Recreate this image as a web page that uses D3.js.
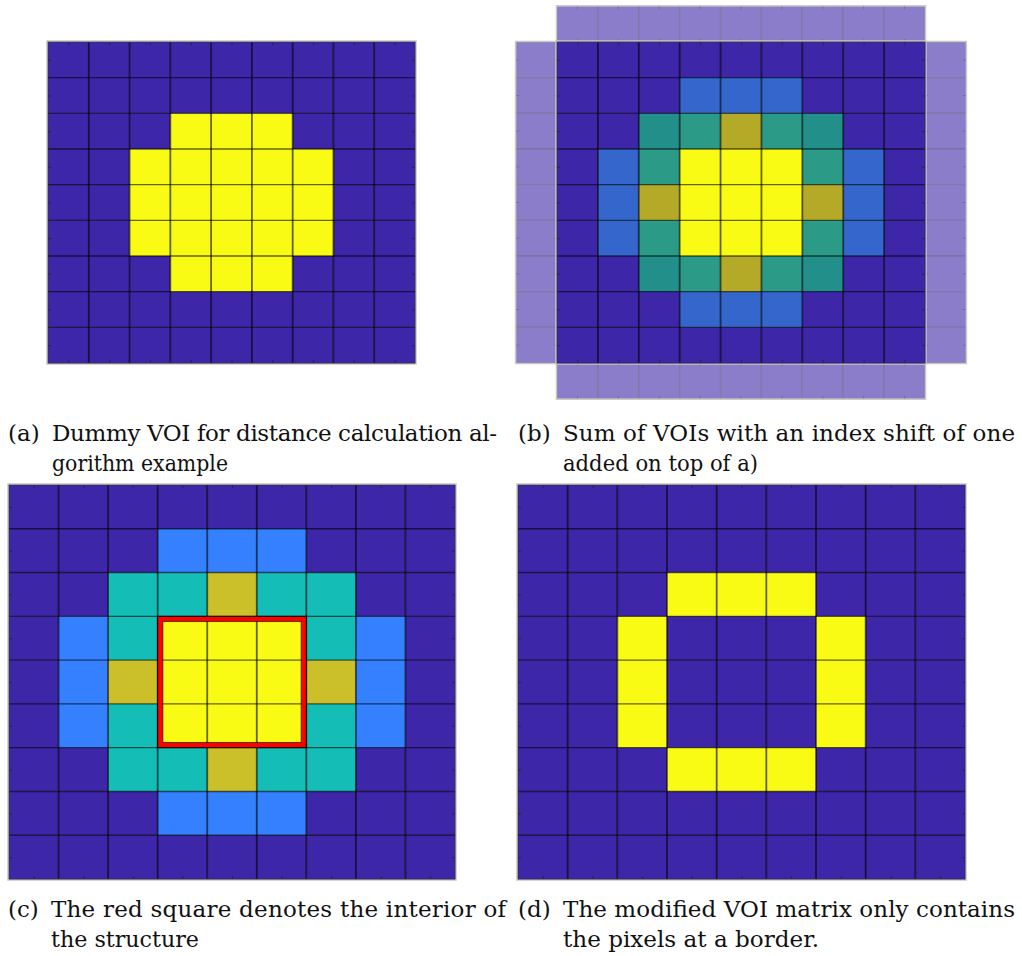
<!DOCTYPE html>
<html>
<head>
<meta charset="utf-8">
<script src="https://cdn.jsdelivr.net/npm/d3@7"></script>
<style>
  html, body { margin: 0; padding: 0; background: #fff; }
  svg { display: block; }
  text { font-family: "DejaVu Serif", serif; fill: #111; }
</style>
</head>
<body>
<svg id="fig" width="1022" height="956"></svg>
<script>
// Dummy VOI (1 = inside the structure)
const voi = [
  [0,0,0,0,0,0,0,0,0],
  [0,0,0,0,0,0,0,0,0],
  [0,0,0,1,1,1,0,0,0],
  [0,0,1,1,1,1,1,0,0],
  [0,0,1,1,1,1,1,0,0],
  [0,0,1,1,1,1,1,0,0],
  [0,0,0,1,1,1,0,0,0],
  [0,0,0,0,0,0,0,0,0],
  [0,0,0,0,0,0,0,0,0]
];

// VOI plus its four copies shifted by one index
const voiSum = [
  [0,0,0,0,0,0,0,0,0],
  [0,0,0,1,1,1,0,0,0],
  [0,0,2,3,4,3,2,0,0],
  [0,1,3,5,5,5,3,1,0],
  [0,1,4,5,5,5,4,1,0],
  [0,1,3,5,5,5,3,1,0],
  [0,0,2,3,4,3,2,0,0],
  [0,0,0,1,1,1,0,0,0],
  [0,0,0,0,0,0,0,0,0]
];

// Border pixels only
const voiBorder = [
  [0,0,0,0,0,0,0,0,0],
  [0,0,0,0,0,0,0,0,0],
  [0,0,0,1,1,1,0,0,0],
  [0,0,1,0,0,0,1,0,0],
  [0,0,1,0,0,0,1,0,0],
  [0,0,1,0,0,0,1,0,0],
  [0,0,0,1,1,1,0,0,0],
  [0,0,0,0,0,0,0,0,0],
  [0,0,0,0,0,0,0,0,0]
];

// Interior block (rows / cols, inclusive start, exclusive end)
const interiorRows = [3, 6];
const interiorCols = [3, 6];

const binaryColors = ["#3e26a8", "#f9fb14"];
const sumColorsB = ["#3e26a8", "#3566cc", "#238f8b", "#2b9b87", "#b5a928", "#f9fb14"];
const sumColorsC = ["#3e26a8", "#3480fe", "#15bdb7", "#15bdb7", "#cbbf2a", "#f9fb14"];

const captions = [
  { label: "(a)", lines: ["Dummy VOI for distance calculation al-", "gorithm example"] },
  { label: "(b)", lines: ["Sum of VOIs with an index shift of one", "added on top of a)"] },
  { label: "(c)", lines: ["The red square denotes the interior of", "the structure"] },
  { label: "(d)", lines: ["The modified VOI matrix only contains", "the pixels at a border."] }
];

const svg = d3.select("#fig");
const N = 9;

function drawPanel(box, matrix, colors, opts = {}) {
  const x = d3.scaleLinear().domain([0, N]).range([box.x0, box.x1]);
  const y = d3.scaleLinear().domain([0, N]).range([box.y0, box.y1]);
  const g = svg.append("g");

  // shifted copies showing outside the image (semi-transparent)
  if (opts.halo) {
    const hg = g.append("g");
    const strips = [
      { r0: -1, r1: 0, c0: 0, c1: N },
      { r0: N, r1: N + 1, c0: 0, c1: N },
      { r0: 0, r1: N, c0: -1, c1: 0 },
      { r0: 0, r1: N, c0: N, c1: N + 1 }
    ];
    strips.forEach(s => {
      const cells = [];
      for (let r = s.r0; r < s.r1; r++) for (let c = s.c0; c < s.c1; c++) cells.push({ r, c });
      hg.selectAll(null).data(cells).join("rect")
        .attr("x", d => x(d.c)).attr("y", d => y(d.r))
        .attr("width", x(1) - x(0)).attr("height", y(1) - y(0))
        .attr("fill", "#8b7dc9")
        .attr("stroke", "#6a6a80").attr("stroke-opacity", 0.45).attr("stroke-width", 1.2);
      hg.append("rect")
        .attr("x", x(s.c0) - 0.5).attr("y", y(s.r0) - 0.5)
        .attr("width", x(s.c1) - x(s.c0) + 1).attr("height", y(s.r1) - y(s.r0) + 1)
        .attr("fill", "none").attr("stroke", "#c8c8c8").attr("stroke-width", 1.5);
      // faint ticks along the strip edges
      const tk = hg.append("g").attr("stroke", "#666").attr("stroke-opacity", 0.5);
      if (s.r0 < 0 || s.r0 >= N) {
        for (let c = s.c0; c < s.c1; c++) {
          tk.append("line").attr("x1", x(c + 0.5)).attr("x2", x(c + 0.5))
            .attr("y1", y(s.r0)).attr("y2", y(s.r0) + 3);
          tk.append("line").attr("x1", x(c + 0.5)).attr("x2", x(c + 0.5))
            .attr("y1", y(s.r1)).attr("y2", y(s.r1) - 3);
        }
      } else {
        for (let r = s.r0; r < s.r1; r++) {
          tk.append("line").attr("y1", y(r + 0.5)).attr("y2", y(r + 0.5))
            .attr("x1", x(s.c0)).attr("x2", x(s.c0) + 3);
          tk.append("line").attr("y1", y(r + 0.5)).attr("y2", y(r + 0.5))
            .attr("x1", x(s.c1)).attr("x2", x(s.c1) - 3);
        }
      }
    });
  }

  // light frame around the image
  g.append("rect")
    .attr("x", box.x0 - 1).attr("y", box.y0 - 1)
    .attr("width", box.x1 - box.x0 + 2).attr("height", box.y1 - box.y0 + 2)
    .attr("fill", "none").attr("stroke", "#c8c8c8").attr("stroke-width", 1.5);

  const cells = [];
  matrix.forEach((row, r) => row.forEach((v, c) => cells.push({ r, c, v })));
  g.append("g").selectAll("rect").data(cells).join("rect")
    .attr("x", d => x(d.c)).attr("y", d => y(d.r))
    .attr("width", x(1) - x(0) + 0.3).attr("height", y(1) - y(0) + 0.3)
    .attr("fill", d => colors[d.v]);

  // grid lines between pixels
  const gl = g.append("g").attr("stroke", "#000").attr("stroke-opacity", 0.6);
  d3.range(1, N).forEach(i => {
    gl.append("line").attr("x1", x(i)).attr("x2", x(i)).attr("y1", y(0)).attr("y2", y(N)).attr("stroke-width", 1.8);
    gl.append("line").attr("y1", y(i)).attr("y2", y(i)).attr("x1", x(0)).attr("x2", x(N)).attr("stroke-width", 1.4);
  });

  // ticks at pixel centres, pointing inwards
  const centers = d3.range(N).map(i => i + 0.5);
  const axes = [
    { a: d3.axisTop(x), t: `translate(0,${box.y0})` },
    { a: d3.axisBottom(x), t: `translate(0,${box.y1})` },
    { a: d3.axisLeft(y), t: `translate(${box.x0},0)` },
    { a: d3.axisRight(y), t: `translate(${box.x1},0)` }
  ];
  axes.forEach(({ a, t }) => {
    const ag = g.append("g").attr("transform", t)
      .call(a.tickValues(centers).tickSize(-3).tickFormat(""));
    ag.select(".domain").remove();
    ag.selectAll(".tick line").attr("stroke", "#222").attr("stroke-opacity", 0.7);
  });

  // axes outline
  g.append("rect")
    .attr("x", box.x0).attr("y", box.y0)
    .attr("width", box.x1 - box.x0).attr("height", box.y1 - box.y0)
    .attr("fill", "none").attr("stroke", "#333").attr("stroke-opacity", 0.7).attr("stroke-width", 1);

  if (opts.interior) {
    const [r0, r1] = opts.interior.rows;
    const [c0, c1] = opts.interior.cols;
    const bx = x(c0), by = y(r0), bw = x(c1) - x(c0), bh = y(r1) - y(r0);
    g.append("rect").attr("x", bx + 2.6).attr("y", by + 2.6)
      .attr("width", bw - 5.2).attr("height", bh - 5.2)
      .attr("fill", "none").attr("stroke", "#ff0000").attr("stroke-width", 5.2);
    g.append("rect").attr("x", bx).attr("y", by).attr("width", bw).attr("height", bh)
      .attr("fill", "none").attr("stroke", "#000").attr("stroke-width", 1);
    g.append("rect").attr("x", bx + 5.2).attr("y", by + 5.2).attr("width", bw - 10.4).attr("height", bh - 10.4)
      .attr("fill", "none").attr("stroke", "#000").attr("stroke-opacity", 0.6).attr("stroke-width", 1);
  }
}

drawPanel({ x0: 48, x1: 415, y0: 42, y1: 363 }, voi, binaryColors);
drawPanel({ x0: 557, x1: 925, y0: 42, y1: 363 }, voiSum, sumColorsB, { halo: true });
drawPanel({ x0: 9, x1: 455, y0: 485, y1: 879 }, voiSum, sumColorsC,
  { interior: { rows: interiorRows, cols: interiorCols } });
drawPanel({ x0: 518, x1: 965, y0: 485, y1: 879 }, voiBorder, binaryColors);

// sub-captions
const capLayout = [
  { lx: 8, tx: 52, y: 441, w: [445, 176] },
  { lx: 518, tx: 563, y: 441, w: [452, 195] },
  { lx: 8, tx: 51, y: 917, w: [455, 148] },
  { lx: 518, tx: 563, y: 917, w: [452, 256] }
];
captions.forEach((cap, i) => {
  const L = capLayout[i];
  svg.append("text").attr("x", L.lx).attr("y", L.y).attr("font-size", 23).text(cap.label);
  cap.lines.forEach((ln, j) => {
    svg.append("text")
      .attr("x", L.tx).attr("y", L.y + j * 30)
      .attr("font-size", 23)
      .attr("textLength", L.w[j])
      .attr("lengthAdjust", j === 0 ? "spacing" : "spacingAndGlyphs")
      .text(ln);
  });
});
</script>
</body>
</html>
